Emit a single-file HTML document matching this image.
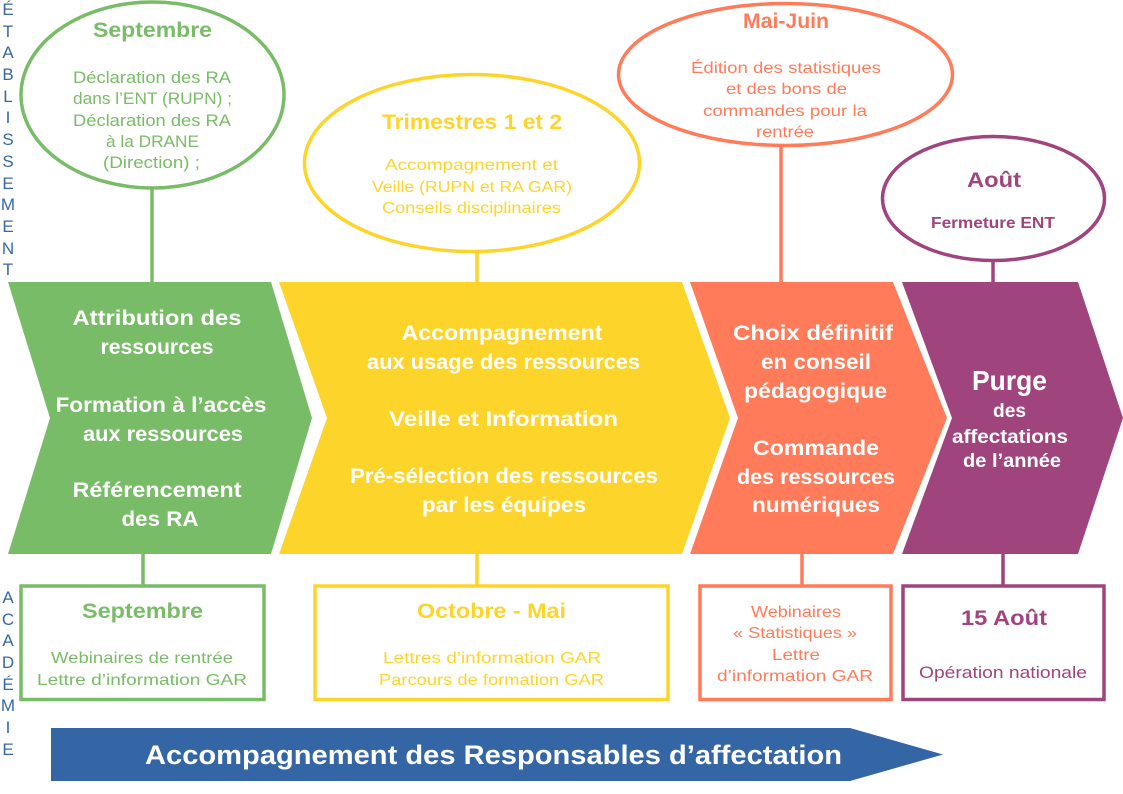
<!DOCTYPE html>
<html>
<head>
<meta charset="utf-8">
<style>
html,body{margin:0;padding:0;background:#fff;}
svg{display:block;}
text{font-family:"Liberation Sans",sans-serif;}
.b{font-weight:bold;}
</style>
</head>
<body>
<svg width="1123" height="794" viewBox="0 0 1123 794" xmlns="http://www.w3.org/2000/svg">
<rect width="1123" height="794" fill="#fff"/>

<!-- vertical labels -->
<g fill="#3767A8" font-size="17" text-anchor="middle">
<text x="8" y="15">É</text>
<text x="8" y="37">T</text>
<text x="8" y="58">A</text>
<text x="8" y="80">B</text>
<text x="8" y="102">L</text>
<text x="8" y="123">I</text>
<text x="8" y="145">S</text>
<text x="8" y="167">S</text>
<text x="8" y="189">E</text>
<text x="8" y="210">M</text>
<text x="8" y="232">E</text>
<text x="8" y="254">N</text>
<text x="8" y="275">T</text>

<text x="8" y="603">A</text>
<text x="8" y="625">C</text>
<text x="8" y="646">A</text>
<text x="8" y="668">D</text>
<text x="8" y="690">É</text>
<text x="8" y="711">M</text>
<text x="8" y="733">I</text>
<text x="8" y="755">E</text>
</g>

<!-- connectors -->
<g stroke-width="3.5">
<line x1="152" y1="188" x2="152" y2="283" stroke="#79BC67"/>
<line x1="143" y1="553" x2="143" y2="585" stroke="#79BC67"/>
<line x1="477" y1="251" x2="477" y2="283" stroke="#FDD52A"/>
<line x1="477" y1="553" x2="477" y2="585" stroke="#FDD52A"/>
<line x1="781" y1="145" x2="781" y2="283" stroke="#FF7B5A"/>
<line x1="802" y1="553" x2="802" y2="585" stroke="#FF7B5A"/>
<line x1="993" y1="260" x2="993" y2="283" stroke="#A0447E"/>
<line x1="1003" y1="553" x2="1003" y2="585" stroke="#A0447E"/>
</g>

<!-- ellipses -->
<ellipse cx="152.5" cy="95" rx="131.5" ry="93" fill="#fff" stroke="#79BC67" stroke-width="3.5"/>
<ellipse cx="472" cy="163" rx="167.5" ry="88.5" fill="#fff" stroke="#FDD52A" stroke-width="3.5"/>
<ellipse cx="785.5" cy="74.5" rx="167" ry="71" fill="#fff" stroke="#FF7B5A" stroke-width="3.5"/>
<ellipse cx="993.5" cy="198.5" rx="111" ry="62" fill="#fff" stroke="#A0447E" stroke-width="3.5"/>

<!-- chevrons -->
<polygon points="8,282 271,282 312,418 271,554 8,554 50,418" fill="#79BC67"/>
<polygon points="279,282 682,282 730,418 682,554 279,554 327,418" fill="#FDD52A"/>
<polygon points="690,282 893,282 947,418 893,554 690,554 738,418" fill="#FF7B5A"/>
<polygon points="902,282 1078,282 1123,418 1078,554 902,554 952,418" fill="#A0447E"/>

<!-- boxes -->
<rect x="21" y="586" width="243" height="113.5" fill="#fff" stroke="#79BC67" stroke-width="3.5"/>
<rect x="315" y="586" width="353" height="113.5" fill="#fff" stroke="#FDD52A" stroke-width="3.5"/>
<rect x="700" y="586" width="191" height="113.5" fill="#fff" stroke="#FF7B5A" stroke-width="3.5"/>
<rect x="903" y="586" width="201" height="113.5" fill="#fff" stroke="#A0447E" stroke-width="3.5"/>

<!-- bottom arrow -->
<polygon points="51,728 850,728 943,754.5 850,781 51,781" fill="#3465A4"/>
<text x="493.5" y="764" font-size="27" class="b" fill="#fff" text-anchor="middle" textLength="697" lengthAdjust="spacingAndGlyphs">Accompagnement des Responsables d’affectation</text>

<!-- green chevron text -->
<g fill="#fff" font-size="21" class="b" text-anchor="middle">
<text x="157" y="325" textLength="169" lengthAdjust="spacingAndGlyphs">Attribution des</text>
<text x="157" y="354" textLength="113" lengthAdjust="spacingAndGlyphs">ressources</text>
<text x="161" y="412" textLength="211" lengthAdjust="spacingAndGlyphs">Formation à l’accès</text>
<text x="163" y="441" textLength="160" lengthAdjust="spacingAndGlyphs">aux ressources</text>
<text x="157" y="497" textLength="169" lengthAdjust="spacingAndGlyphs">Référencement</text>
<text x="160" y="526" textLength="77" lengthAdjust="spacingAndGlyphs">des RA</text>

<text x="502" y="340" textLength="201" lengthAdjust="spacingAndGlyphs">Accompagnement</text>
<text x="503.5" y="369" textLength="273" lengthAdjust="spacingAndGlyphs">aux usage des ressources</text>
<text x="503.5" y="426" textLength="229" lengthAdjust="spacingAndGlyphs">Veille et Information</text>
<text x="504" y="483" textLength="308" lengthAdjust="spacingAndGlyphs">Pré-sélection des ressources</text>
<text x="504" y="512" textLength="164" lengthAdjust="spacingAndGlyphs">par les équipes</text>

<text x="813" y="340" textLength="160" lengthAdjust="spacingAndGlyphs">Choix définitif</text>
<text x="816" y="369" textLength="110" lengthAdjust="spacingAndGlyphs">en conseil</text>
<text x="815.5" y="398" textLength="143" lengthAdjust="spacingAndGlyphs">pédagogique</text>
<text x="816" y="455" textLength="126" lengthAdjust="spacingAndGlyphs">Commande</text>
<text x="816" y="484" textLength="158" lengthAdjust="spacingAndGlyphs">des ressources</text>
<text x="816" y="512" textLength="128" lengthAdjust="spacingAndGlyphs">numériques</text>

<text x="1009.5" y="390" font-size="28" textLength="75" lengthAdjust="spacingAndGlyphs">Purge</text>
<text x="1009.5" y="417" font-size="19" textLength="33" lengthAdjust="spacingAndGlyphs">des</text>
<text x="1010" y="443" font-size="19" textLength="116" lengthAdjust="spacingAndGlyphs">affectations</text>
<text x="1012" y="467" font-size="19" textLength="98" lengthAdjust="spacingAndGlyphs">de l’année</text>
</g>

<!-- green ellipse text -->
<g fill="#79BC67" text-anchor="middle">
<text x="152.5" y="37" font-size="21" class="b" textLength="119" lengthAdjust="spacingAndGlyphs">Septembre</text>
<text x="152" y="83" font-size="17" textLength="158" lengthAdjust="spacingAndGlyphs">Déclaration des RA</text>
<text x="152.5" y="104" font-size="17" textLength="159" lengthAdjust="spacingAndGlyphs">dans l’ENT (RUPN) ;</text>
<text x="152" y="126" font-size="17" textLength="158" lengthAdjust="spacingAndGlyphs">Déclaration des RA</text>
<text x="152.5" y="147" font-size="17" textLength="93" lengthAdjust="spacingAndGlyphs">à la DRANE</text>
<text x="151.5" y="168" font-size="17" textLength="97" lengthAdjust="spacingAndGlyphs">(Direction) ;</text>

<text x="142.5" y="618" font-size="21" class="b" textLength="121" lengthAdjust="spacingAndGlyphs">Septembre</text>
<text x="142" y="663" font-size="16" textLength="182" lengthAdjust="spacingAndGlyphs">Webinaires de rentrée</text>
<text x="142" y="685" font-size="16" textLength="210" lengthAdjust="spacingAndGlyphs">Lettre d’information GAR</text>
</g>

<!-- yellow text -->
<g fill="#FDD52A" text-anchor="middle">
<text x="472" y="129" font-size="21" class="b" textLength="180" lengthAdjust="spacingAndGlyphs">Trimestres 1 et 2</text>
<text x="471.5" y="170" font-size="16" textLength="173" lengthAdjust="spacingAndGlyphs">Accompagnement et</text>
<text x="472" y="192" font-size="16" textLength="200" lengthAdjust="spacingAndGlyphs">Veille (RUPN et RA GAR)</text>
<text x="471.5" y="213" font-size="16" textLength="179" lengthAdjust="spacingAndGlyphs">Conseils disciplinaires</text>

<text x="491.5" y="618" font-size="21" class="b" textLength="149" lengthAdjust="spacingAndGlyphs">Octobre - Mai</text>
<text x="492" y="663" font-size="16" textLength="218" lengthAdjust="spacingAndGlyphs">Lettres d’information GAR</text>
<text x="491.5" y="685" font-size="16" textLength="225" lengthAdjust="spacingAndGlyphs">Parcours de formation GAR</text>
</g>

<!-- orange text -->
<g fill="#FF7B5A" text-anchor="middle">
<text x="786" y="28" font-size="21" class="b" textLength="86" lengthAdjust="spacingAndGlyphs">Mai-Juin</text>
<text x="786" y="73" font-size="16" textLength="190" lengthAdjust="spacingAndGlyphs">Édition des statistiques</text>
<text x="786.5" y="94" font-size="16" textLength="121" lengthAdjust="spacingAndGlyphs">et des bons de</text>
<text x="785" y="116" font-size="16" textLength="164" lengthAdjust="spacingAndGlyphs">commandes pour la</text>
<text x="785" y="137" font-size="16" textLength="58" lengthAdjust="spacingAndGlyphs">rentrée</text>

<text x="796" y="617" font-size="16" textLength="90" lengthAdjust="spacingAndGlyphs">Webinaires</text>
<text x="795" y="638" font-size="16" textLength="124" lengthAdjust="spacingAndGlyphs">« Statistiques »</text>
<text x="796" y="660" font-size="16" textLength="48" lengthAdjust="spacingAndGlyphs">Lettre</text>
<text x="795" y="681" font-size="16" textLength="156" lengthAdjust="spacingAndGlyphs">d’information GAR</text>
</g>

<!-- purple text -->
<g fill="#A0447E" text-anchor="middle">
<text x="994" y="187" font-size="21" class="b" textLength="54" lengthAdjust="spacingAndGlyphs">Août</text>
<text x="993" y="228" font-size="16" class="b" textLength="124" lengthAdjust="spacingAndGlyphs">Fermeture ENT</text>

<text x="1004" y="625" font-size="21" class="b" textLength="86" lengthAdjust="spacingAndGlyphs">15 Août</text>
<text x="1003" y="678" font-size="17" textLength="168" lengthAdjust="spacingAndGlyphs">Opération nationale</text>
</g>
</svg>
</body>
</html>
